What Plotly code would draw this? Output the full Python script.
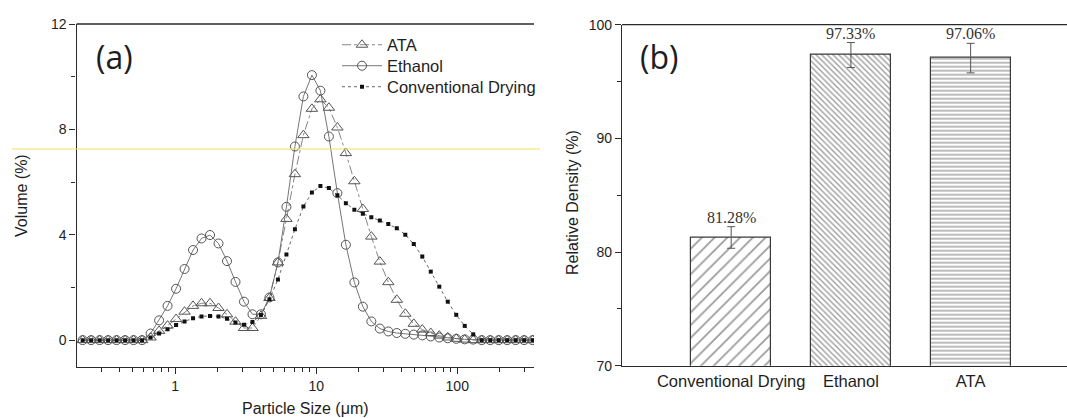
import plotly.graph_objects as go

# ---------------- data: panel (a) particle size distribution ----------------
particle_size_um = [
    0.2208, 0.2536, 0.2913, 0.3346, 0.3843, 0.4416, 0.5072, 0.5825, 0.6691, 0.7688,
    0.8831, 1.0144, 1.1652, 1.3385, 1.5373, 1.7660, 2.0287, 2.3303, 2.6770, 3.0750,
    3.5318, 4.0570, 4.6601, 5.3531, 6.1490, 7.0632, 8.1114, 9.3198, 10.706, 12.297,
    14.125, 16.226, 18.638, 21.409, 24.593, 28.249, 32.448, 37.273, 42.815, 49.181,
    56.494, 64.894, 74.544, 85.627, 98.36, 112.98, 129.78, 149.08, 171.24, 196.70,
    225.94, 259.54, 298.12, 342.45,
]
ata_volume = [
    0, 0, 0, 0, 0, 0, 0, 0, 0.10, 0.35,
    0.55, 0.80, 1.08, 1.30, 1.40, 1.40, 1.22, 0.98, 0.70, 0.46,
    0.46, 0.92, 1.60, 2.95, 4.60, 6.30, 7.78, 8.78, 9.14, 8.82,
    8.07, 7.10, 6.03, 4.98, 3.93, 2.98, 2.20, 1.53, 1.00, 0.62,
    0.40, 0.27, 0.17, 0.10, 0.05, 0.02, 0, 0, 0, 0,
    0, 0, 0, 0,
]
ethanol_volume = [
    0, 0, 0, 0, 0, 0, 0, 0, 0.25, 0.75,
    1.30, 1.95, 2.70, 3.42, 3.86, 3.99, 3.67, 3.00, 2.21, 1.46,
    0.98, 0.98, 1.62, 2.95, 5.06, 7.35, 9.25, 10.06, 9.47, 7.73,
    5.58, 3.62, 2.19, 1.27, 0.71, 0.44, 0.33, 0.27, 0.24, 0.21,
    0.18, 0.14, 0.10, 0.07, 0.05, 0.03, 0.02, 0, 0, 0,
    0, 0, 0, 0,
]
conventional_volume = [
    0, 0, 0, 0, 0, 0, 0, 0, 0.10, 0.25,
    0.41, 0.57, 0.71, 0.83, 0.90, 0.92, 0.90, 0.81, 0.67, 0.58,
    0.69, 0.95, 1.55, 2.30, 3.25, 4.21, 5.07, 5.60, 5.85, 5.77,
    5.50, 5.20, 4.95, 4.80, 4.66, 4.54, 4.41, 4.25, 4.00, 3.65,
    3.17, 2.60, 2.03, 1.46, 0.96, 0.54, 0.22, 0, 0, 0,
    0, 0, 0, 0,
]
a_yticks = [0, 4, 8, 12]
a_yminor = [2, 6, 10]
a_xticks = [1, 10, 100]
a_xticklabels = ["1", "10", "100"]
a_xminor = [0.3, 0.4, 0.5, 0.6, 0.7, 0.8, 0.9,
            2, 3, 4, 5, 6, 7, 8, 9,
            20, 30, 40, 50, 60, 70, 80, 90,
            200, 300]

# ---------------- data: panel (b) relative density ----------------
methods = ["Conventional Drying", "Ethanol", "ATA"]
relative_density = [81.28, 97.33, 97.06]
density_error = [0.95, 1.10, 1.30]
density_labels = ["81.28%", "97.33%", "97.06%"]
b_yticks = [70, 80, 90, 100]
b_yminor = [75, 85, 95]

W, H = 1067, 418
SANS = "Liberation Sans, Arial, sans-serif"
SERIF = "Liberation Serif, Times New Roman, serif"
AXC = "#2a2a2a"
TXT = "#1e1e1e"

fig = go.Figure()

fig.add_trace(go.Scatter(
    x=particle_size_um, y=ata_volume, name="ATA", mode="lines+markers", legend="legend",
    line=dict(color="#777777", width=0.9, dash="dashdot"),
    marker=dict(symbol="triangle-up-open", size=10, color="#555555", line=dict(width=1)),
    xaxis="x", yaxis="y"))
fig.add_trace(go.Scatter(
    x=particle_size_um, y=ethanol_volume, name="Ethanol", mode="lines+markers", legend="legend2",
    line=dict(color="#666666", width=0.9),
    marker=dict(symbol="circle-open", size=9, color="#555555", line=dict(width=1)),
    xaxis="x", yaxis="y"))
fig.add_trace(go.Scatter(
    x=particle_size_um, y=conventional_volume, name="Conventional Drying", mode="lines+markers",
    legend="legend3",
    line=dict(color="#555555", width=0.9, dash="dot"),
    marker=dict(symbol="square", size=4, color="#111111"),
    xaxis="x", yaxis="y"))

pattern_shapes = ["/", "\\", "-"]
pattern_sizes = [9, 4, 4]
pattern_solid = [0.2, 0.34, 0.34]
fig.add_trace(go.Bar(
    x=methods, y=relative_density, width=0.668, showlegend=False,
    marker=dict(color="white", line=dict(color="#3a3a3a", width=1.2),
                pattern=dict(shape=pattern_shapes, size=pattern_sizes, solidity=pattern_solid,
                             fgcolor="#3a3a3a", bgcolor="white", fillmode="overlay")),
    error_y=dict(type="data", array=density_error, color="#555555", thickness=1, width=4),
    xaxis="x2", yaxis="y2"))

for m, v, e, t in zip(methods, relative_density, density_error, density_labels):
    fig.add_annotation(x=m, y=v + e, text=t, showarrow=False, xref="x2", yref="y2",
                       yanchor="bottom", yshift=-1,
                       font=dict(family=SERIF, size=16, color="#333333"))

xa_dom = [76.6 / W, 534 / W]
ya_dom = [1 - 367 / H, 1 - 24 / H]
xb_dom = [622 / W, 1.0]
yb_dom = [1 - 365.7 / H, 1 - 24.7 / H]

legend_common = dict(xanchor="left", yanchor="middle", bgcolor="rgba(0,0,0,0)",
                     font=dict(family=SANS, size=16.5, color=TXT), itemwidth=40)

fig.update_layout(
    width=W, height=H, margin=dict(l=0, r=0, t=0, b=0, pad=0, autoexpand=False),
    paper_bgcolor="white", plot_bgcolor="white",
    font=dict(family=SANS, size=14, color=TXT),
    xaxis=dict(type="log", domain=xa_dom, range=[-0.69897, 2.5441], anchor="y", automargin=False,
               showgrid=False, zeroline=False, showline=True, linecolor=AXC, linewidth=1.3,
               ticks="outside", ticklen=6, tickcolor=AXC, tickvals=a_xticks, ticktext=a_xticklabels,
               tickfont=dict(size=14),
               minor=dict(tickvals=a_xminor, ticks="outside", ticklen=4, tickcolor=AXC)),
    yaxis=dict(domain=ya_dom, range=[-1.02, 12], anchor="x", automargin=False,
               showgrid=False, zeroline=False, showline=True, linecolor=AXC, linewidth=1.3,
               ticks="outside", ticklen=6, tickcolor=AXC, tickvals=a_yticks, tickfont=dict(size=14),
               minor=dict(tickvals=a_yminor, ticks="outside", ticklen=4, tickcolor=AXC)),
    xaxis2=dict(domain=xb_dom, range=[-0.912, 2.805], anchor="y2", type="category", automargin=False,
                showgrid=False, zeroline=False, showline=True, linecolor=AXC, linewidth=1.3,
                ticks="", tickfont=dict(size=16.5)),
    yaxis2=dict(domain=yb_dom, range=[70, 100], anchor="x2", automargin=False,
                showgrid=False, zeroline=False, showline=True, linecolor=AXC, linewidth=1.3,
                ticks="outside", ticklen=6, tickcolor=AXC, tickvals=b_yticks, tickfont=dict(size=14),
                minor=dict(tickvals=b_yminor, ticks="outside", ticklen=4, tickcolor=AXC)),
    legend=dict(x=337 / W, y=1 - 45 / H, **legend_common),
    legend2=dict(x=337 / W, y=1 - 66 / H, **legend_common),
    legend3=dict(x=337 / W, y=1 - 87 / H, **legend_common),
    bargap=0,
)

# top frame lines
fig.add_shape(type="line", xref="x domain", yref="y domain", x0=0, x1=1, y0=1, y1=1,
              line=dict(color=AXC, width=1.3))
fig.add_shape(type="line", xref="x2 domain", yref="y2 domain", x0=0, x1=1, y0=1, y1=1,
              line=dict(color=AXC, width=1.3))
# yellow stray line
fig.add_shape(type="line", xref="paper", yref="paper", x0=12 / W, x1=540 / W,
              y0=1 - 149 / H, y1=1 - 149 / H, line=dict(color="#f1e35a", width=1))

# panel labels and axis titles
fig.add_annotation(x=94 / W, y=1 - 57 / H, xref="paper", yref="paper", text="(a)", showarrow=False,
                   xanchor="left", yanchor="middle", font=dict(family="Open Sans, sans-serif", size=32, color=TXT))
fig.add_annotation(x=638 / W, y=1 - 56 / H, xref="paper", yref="paper", text="(b)", showarrow=False,
                   xanchor="left", yanchor="middle", font=dict(family="Open Sans, sans-serif", size=32, color=TXT))
fig.add_annotation(x=21 / W, y=1 - 196 / H, xref="paper", yref="paper", text="Volume (%)", showarrow=False,
                   textangle=-90, xanchor="center", yanchor="middle",
                   font=dict(family=SANS, size=16, color=TXT))
fig.add_annotation(x=305 / W, y=1 - 408 / H, xref="paper", yref="paper", text="Particle Size (\u03bcm)",
                   showarrow=False, xanchor="center", yanchor="middle",
                   font=dict(family=SANS, size=16, color=TXT))
fig.add_annotation(x=572 / W, y=1 - 203 / H, xref="paper", yref="paper", text="Relative Density (%)",
                   showarrow=False, textangle=-90, xanchor="center", yanchor="middle",
                   font=dict(family=SANS, size=16, color=TXT))

fig.write_html("out.html", config={"displayModeBar": False},
               post_script="document.body.style.margin='0px';")
